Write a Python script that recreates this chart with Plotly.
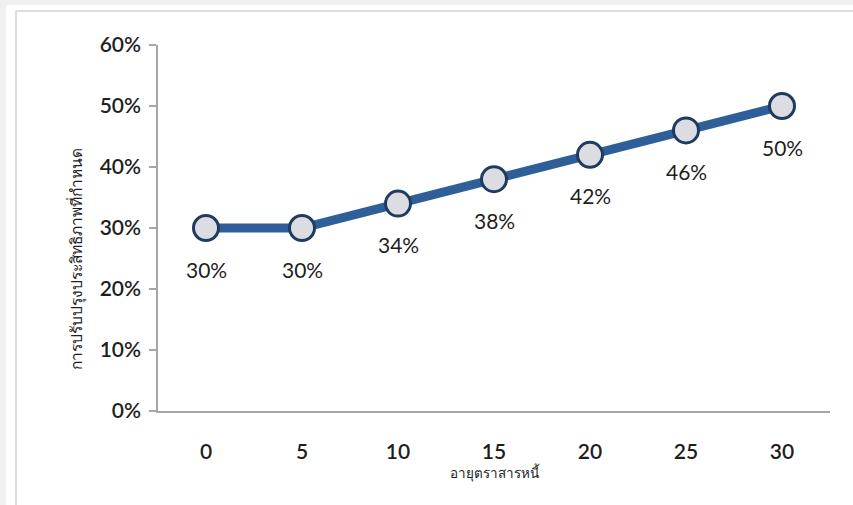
import plotly.graph_objects as go

# Bond duration (years) vs. required efficiency improvement
durations = ["0", "5", "10", "15", "20", "25", "30"]
improvement = [0.30, 0.30, 0.34, 0.38, 0.42, 0.46, 0.50]
y_ticks = [0, 0.1, 0.2, 0.3, 0.4, 0.5, 0.6]

x_title = "อายุตราสารหนี้"
y_title = "การปรับปรุงประสิทธิภาพที่กำหนด"

font_family = "Lato, Open Sans, Noto Sans, DejaVu Sans, sans-serif"
thai_family = "Noto Sans, DejaVu Sans, sans-serif"

fig = go.Figure()
fig.add_trace(go.Scatter(
    x=durations,
    y=improvement,
    mode="lines+markers",
    line=dict(color="#2f5f98", width=9),
    marker=dict(size=25, color="#dcdde3", line=dict(color="#1f3b5e", width=3)),
    hoverinfo="skip",
    showlegend=False,
))

# value labels under each point (category axis -> position by index)
for i, yv in enumerate(improvement):
    fig.add_annotation(
        x=i, y=yv, text=f"{round(yv * 100)}%", showarrow=False,
        yshift=-41, font=dict(size=21, color="#1e1e1e", family=font_family),
    )

# vertical axis title, placed as a rotated annotation
fig.add_annotation(
    xref="paper", yref="paper", x=0, y=0.5, xanchor="center", yanchor="middle",
    xshift=-82, yshift=-31,
    text=y_title, textangle=-90, showarrow=False,
    font=dict(size=15.5, color="#1e1e1e", family=thai_family),
)

# outer frame and grey page strips
fig.update_layout(
    shapes=[
        dict(type="rect", xref="paper", yref="paper", xsizemode="pixel", ysizemode="pixel",
             xanchor=0, yanchor=1, x0=-158, x1=-152, y0=45, y1=-500,
             fillcolor="#f0f0f0", line=dict(width=0), layer="below"),
        dict(type="rect", xref="paper", yref="paper", xsizemode="pixel", ysizemode="pixel",
             xanchor=0, yanchor=1, x0=-158, x1=700, y0=45, y1=40,
             fillcolor="#f0f0f0", line=dict(width=0), layer="below"),
        dict(type="rect", xref="paper", yref="paper", xsizemode="pixel", ysizemode="pixel",
             xanchor=0, yanchor=1, x0=-142, x1=700, y0=34, y1=-500,
             fillcolor="rgba(0,0,0,0)", line=dict(width=1.5, color="#d4d4d4"), layer="below"),
    ]
)

fig.update_layout(
    width=853, height=505,
    margin=dict(l=158, r=23, t=45, b=94),
    paper_bgcolor="white",
    plot_bgcolor="white",
    font=dict(family=font_family, color="#1e1e1e"),
    xaxis=dict(
        type="category",
        range=[-0.5, 6.5],
        showgrid=False, zeroline=False,
        showline=True, linecolor="#a6a6a6", linewidth=1.5,
        ticks="", ticklabelstandoff=21,
        tickfont=dict(size=21, color="#1e1e1e", weight=600),
        title=dict(text=x_title, font=dict(size=13.5, color="#1e1e1e", family=thai_family), standoff=6),
    ),
    yaxis=dict(
        range=[0, 0.6],
        tickvals=y_ticks,
        tickformat=".0%",
        showgrid=False, zeroline=False,
        showline=True, linecolor="#a6a6a6", linewidth=1.5,
        ticks="outside", ticklen=7, tickcolor="#a6a6a6", tickwidth=1.5,
        ticklabelstandoff=4,
        tickfont=dict(size=21, color="#1e1e1e", weight=600),
    ),
)

fig.write_html("out.html")
